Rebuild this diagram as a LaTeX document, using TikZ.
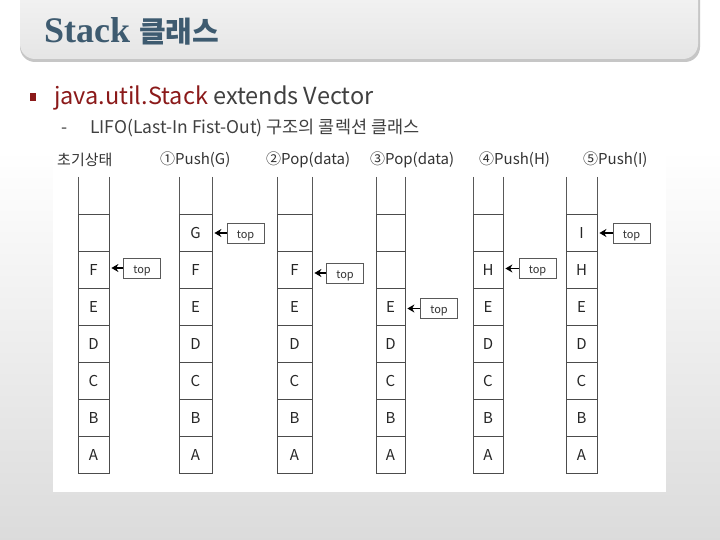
\documentclass[tikz,border=0pt]{standalone}
\usepackage{fontspec}
\setmainfont{Liberation Serif}
\newfontfamily\kr{Noto Sans CJK KR}
\usetikzlibrary{arrows.meta}
\definecolor{titleblue}{HTML}{3E5B70}
\definecolor{darkred}{HTML}{8B1A1A}
\definecolor{bodygray}{HTML}{404040}
\newcommand\stackcol[4]{%
  \draw[vline] (#2,177) -- (#2,214) (#2+#3,177) -- (#2+#3,214);
  \foreach \t [count=\r] in {#4} {
    \node[cell, minimum width=#3pt] (#1r\r) at (#2+#3/2, 195.5+37*\r) {\t};
  }
}
\begin{document}
\begin{tikzpicture}[x=1pt,y=-1pt,
  vline/.style={draw=gray!70!black, line width=0.8pt},
  cell/.style={draw=gray!60!black, line width=0.8pt, minimum height=37pt, inner sep=0pt,
     text height=11pt, text depth=0pt,
     font=\kr\fontsize{15}{18}\selectfont, text=black!85},
  topbox/.style={draw=gray!70!black, line width=0.7pt, minimum width=37pt, minimum height=20pt,
     inner sep=0pt, text height=10pt, text depth=0pt, font=\kr\fontsize{11}{13}\selectfont, text=black!80},
  ptr/.style={-{Stealth[length=7pt,width=8pt]}, line width=1.7pt, shorten >=2pt},
  head/.style={anchor=west, inner sep=0pt, font=\kr\fontsize{15}{17}\selectfont, text=black!80}]
\useasboundingbox (0,0) rectangle (720,540);
% background
\fill[white] (0,0) rectangle (720,540);
\shade[top color=white, bottom color=gray!28] (0,150) rectangle (720,540);
% title bar
\fill[gray!45, rounded corners=15pt] (20,-20) rectangle (700,62);
\shade[top color=gray!8, bottom color=gray!20, rounded corners=15pt] (20,-20) rectangle (698,59);
\node[anchor=base west, inner sep=0pt, text=titleblue] (title) at (44,43)
  {\fontsize{36}{40}\selectfont\bfseries Stack {\kr\bfseries\fontsize{29}{32}\selectfont 클래스}};
% bullets
\fill[darkred] (30,93) rectangle (36,101);
\node[anchor=base west, inner sep=0pt, font=\kr\fontsize{23.5}{28}\selectfont, text=bodygray] (b1) at (54,105)
  {\textcolor{darkred}{java.util.Stack} extends Vector};
\node[anchor=base west, inner sep=0pt, font=\kr\fontsize{17.5}{20}\selectfont, text=bodygray] (dash) at (61,134) {-};
\node[anchor=base west, inner sep=0pt, font=\kr\fontsize{17.5}{20}\selectfont, text=bodygray] (b2) at (90,134)
  {LIFO(Last-In Fist-Out) 구조의 콜렉션 클래스};
% panel
\fill[white] (53,140) rectangle (666,492);
% headers
\node[head] (h1) at (57,160) {초기상태};
\node[head] (h2) at (160,160) {①Push(G)};
\node[head] (h3) at (266,160) {②Pop(data)};
\node[head] (h4) at (370,160) {③Pop(data)};
\node[head] (h5) at (479,160) {④Push(H)};
\node[head] (h6) at (583,160) {⑤Push(I)};
% stacks
\stackcol{a}{78}{31}{{},F,E,D,C,B,A}
\stackcol{b}{179}{33}{G,F,E,D,C,B,A}
\stackcol{c}{277}{35}{{},F,E,D,C,B,A}
\stackcol{d}{376}{29}{{},{},E,D,C,B,A}
\stackcol{e}{473}{30}{{},H,E,D,C,B,A}
\stackcol{f}{566}{31}{I,H,E,D,C,B,A}
% top pointers
\node[topbox] (ta) at (142,268) {top};
\node[topbox] (tb) at (245.5,233) {top};
\node[topbox] (tc) at (345,273) {top};
\node[topbox] (td) at (439,308.5) {top};
\node[topbox] (te) at (537.5,268.5) {top};
\node[topbox] (tf) at (631.5,233) {top};
\draw[ptr] (ta.west) -- (ta.west -| ar2.east);
\draw[ptr] (tb.west) -- (tb.west -| br1.east);
\draw[ptr] (tc.west) -- (tc.west -| cr2.east);
\draw[ptr] (td.west) -- (td.west -| dr3.east);
\draw[ptr] (te.west) -- (te.west -| er2.east);
\draw[ptr] (tf.west) -- (tf.west -| fr1.east);
\end{tikzpicture}
\end{document}
